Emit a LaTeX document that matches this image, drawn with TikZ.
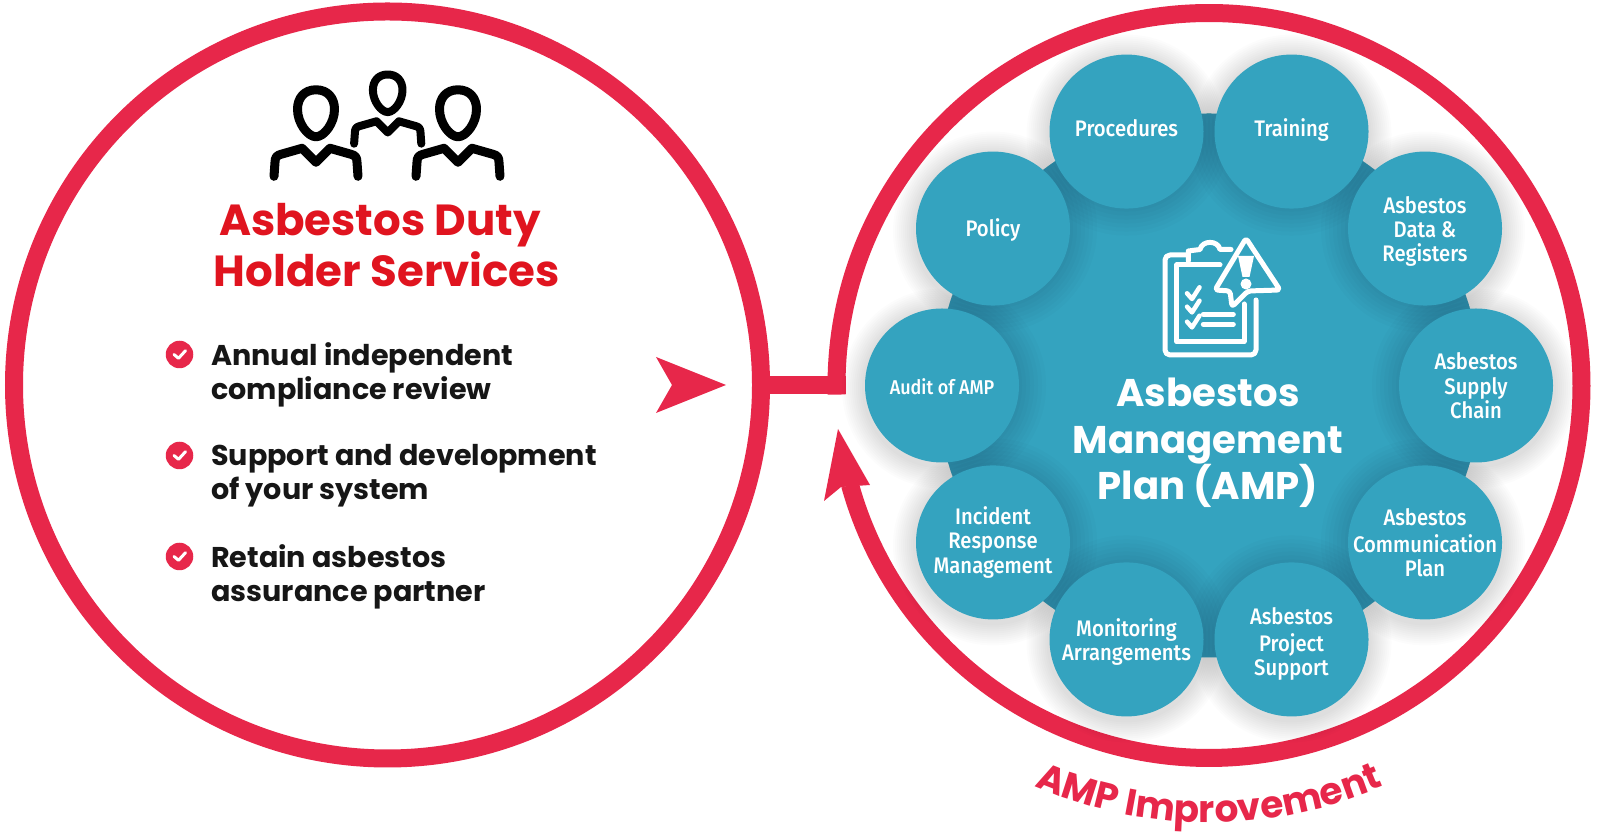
\documentclass[tikz,border=0pt]{standalone}
\usepackage{fontspec}
\setmainfont{Poppins}
\newfontfamily\capfont[FakeStretch=.9]{Fira Sans Medium}
\usetikzlibrary{positioning,calc,decorations.text}
\definecolor{ringred}{HTML}{E7274A}
\definecolor{titlered}{HTML}{E0141F}
\definecolor{amsteal}{HTML}{34A3BF}
\definecolor{inktext}{HTML}{161616}
\tikzset{
  ringline/.style={draw=ringred,line width=18pt},
  satellite/.style={circle,fill=amsteal,minimum size=154pt,inner sep=0pt},
  sattextstyle/.style={inner sep=0pt,align=center,text=white,font=\capfont\fontsize{22.5}{24.4}\selectfont},
  itemtext/.style={anchor=west,align=left,inner sep=0pt,text=inktext,
    font=\bfseries\fontsize{28.6}{34}\selectfont},
  titletext/.style={anchor=base,inner sep=0pt,text=titlered,font=\bfseries\fontsize{43.5}{46}\selectfont},
  iconline/.style={draw=white,line width=5pt,line cap=round,line join=round},
  person/.pic={
    \draw[line width=#1,line cap=round,line join=round]
      (0,23.5) .. controls (12,23.5) and (18.5,15) .. (18.5,4)
      .. controls (18.5,-10) and (8,-23.5) .. (0,-23.5)
      .. controls (-8,-23.5) and (-18.5,-10) .. (-18.5,4)
      .. controls (-18.5,15) and (-12,23.5) .. (0,23.5) -- cycle;
    \draw[line width=#1,line cap=round,line join=round]
      (-42,-63) -- (-41,-49) .. controls (-41,-44) and (-39,-42) .. (-35,-41)
      -- (-14,-35) -- (0,-49) -- (14,-35) -- (35,-41)
      .. controls (39,-42) and (41,-44) .. (41,-49) -- (42,-63);
  }
}
\begin{document}
\begin{tikzpicture}[x=1pt,y=1pt]
\useasboundingbox (0,0) rectangle (1600,834);
\fill[white] (0,0) rectangle (1600,834);
\coordinate (rcentre) at (1209,448.5);
\coordinate (rjoin) at (846,449);
% left ring and the bar to the right ring
\node[circle,ringline,minimum size=747pt,inner sep=0pt] (lring) at (387.5,449) {};
\draw[ringline] (lring.east) -- (rjoin);
\draw[ringline] ($(rcentre)+(181.4:372.5)$) arc[start angle=181.4,end angle=-164.5,radius=372.5];
\fill[ringred] (838,405) -- (824,333) -- (841,347) -- (870,349) -- cycle;
\fill[ringred] (726,449) -- (656,477) -- (672,449) -- (656,421) -- cycle;
% people
\pic at (316,720.7) {person=9pt};
\pic at (458,720.7) {person=9pt};
\pic[scale=.8] at (387.7,740.7) {person=8pt};
% left texts
\node[titletext] (title1) at (380,598.5) {Asbestos Duty};
\node[titletext] (title2) at (387,547.5) {Holder Services};
\foreach \ypos/\linetext [count=\n] in {479.5/{Annual independent\\compliance review},
    378.5/{Support and development\\of your system},
    277.5/{Retain asbestos\\assurance partner}}{
  \node[circle,fill=ringred,minimum size=27.5pt,inner sep=0pt] (tick\n) at (179.5,\ypos) {};
  \draw[white,line width=3pt,line cap=round,line join=round]
    ($(tick\n)+(-5.5,0)$) -- ($(tick\n)+(-1,-3.8)$) -- ($(tick\n)+(6,3.8)$);
  \node[itemtext] (item\n) at (211,\ypos-20) {\linetext};
}
% shadow of the plan
\foreach \rad in {100,98,96,94,92,90,88,86,84,82,80}{
  \foreach \ang in {0,36,...,324}
    \fill[black,opacity=.012] ($(rcentre)+(\ang:267)+(0,-3)$) circle[radius=\rad];
}
\node[circle,fill=amsteal,minimum size=544pt,inner sep=0pt] (hub) at (rcentre) {};
\foreach \rad in {104,100,96,92,88,84,80}{
  \begin{scope}
    \clip (rcentre) circle[radius=272];
    \foreach \ang in {0,36,...,324}
      \fill[black,opacity=.016] ($(rcentre)+(\ang:267)$) circle[radius=\rad];
  \end{scope}
}
\foreach \ang/\sattext/\up [count=\n] in {108/Procedures/0,72/Training/0,36/{Asbestos\\Data \&\\Registers}/-4,
    0/{Asbestos\\Supply\\Chain}/-4,-36/{Asbestos\\Communication\\Plan}/-4,-72/{Asbestos\\Project\\Support}/-6,
    -108/{Monitoring\\Arrangements}/-4,-144/{Incident\\Response\\Management}/-1,
    180/{\fontsize{20}{24.4}\selectfont Audit of AMP}/-4,144/Policy/-3}{
  \node[satellite] (sat\n) at ($(rcentre)+(\ang:267)$) {};
  \node[sattextstyle] (sattext\n) at ($(sat\n)+(0,\up)$) {\strut\sattext\strut};
}
% clipboard and warning sign
\draw[iconline,rounded corners=5pt] (1256,534) -- (1256,479) -- (1165,479) -- (1165,579) -- (1188,579);
\draw[iconline] (1220,569) -- (1176.7,569) -- (1176.7,492.3) -- (1244,492.3) -- (1244,530);
\draw[iconline] (1188.3,573) -- (1188.3,583) -- (1200,584.5)
  .. controls (1202,594) and (1218,594) .. (1220,584.5) -- (1231,584.5);
\draw[iconline,fill=amsteal,rounded corners=3pt] (1246,595.7) -- (1280,544) -- (1248,543)
  -- (1232,527.3) -- (1230,543) -- (1215,544) -- cycle;
\fill[white] (1238,578) -- (1254,578) -- (1249.5,557) -- (1242.5,557) -- cycle;
\fill[white] (1246,550) circle[radius=5.5];
\foreach \ypos in {540.7,527.3,512.3}
  \draw[white,line width=4.5pt,line cap=round,line join=round]
    (1187,\ypos) -- (1192,\ypos-5.7) -- (1199.5,\ypos+6);
\draw[iconline] (1203.3,519.7) -- (1233.3,519.7);
\draw[iconline] (1203.3,509.7) -- (1233.3,509.7);
\node[inner sep=0pt,align=center,text=white,font=\bfseries\fontsize{38.6}{46.5}\selectfont] (hubtext) at (1208,391) {Asbestos\\Management\\Plan (AMP)};
% curved caption
\path[decorate,decoration={text along path,text align=center,
  text={|\bfseries\fontsize{37.5}{37.5}\selectfont\color{ringred}|AMP Improvement}}]
  ($(rcentre)+(244:437)$) arc[start angle=244,end angle=296,radius=437];
\end{tikzpicture}
\end{document}
